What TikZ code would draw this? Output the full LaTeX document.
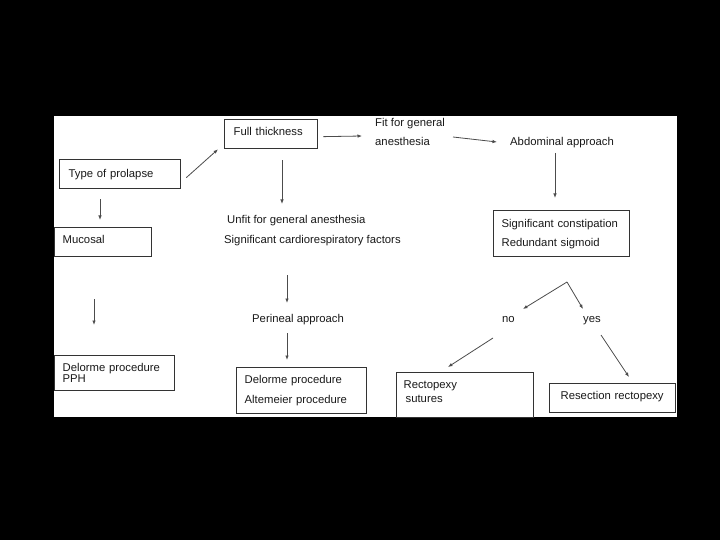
\documentclass[tikz,border=0pt]{standalone}
\usepackage{fontspec}
\setmainfont{Liberation Sans}
\usetikzlibrary{arrows.meta,calc}
\begin{document}
\begin{tikzpicture}[x=1pt,y=-1pt,
  every node/.style={font=\fontsize{11.3}{13}\selectfont, text=black!90},
  box/.style={draw=black!80, line width=1.3pt, anchor=north west, inner ysep=0pt, align=left},
  lbl/.style={anchor=north west, inner sep=0pt, align=left},
  arr/.style={draw=black!70, line width=0.8pt, -{Latex[length=4.5pt,width=3.5pt]}},
]
\useasboundingbox (0,0) rectangle (720,540);
\fill[black] (0,0) rectangle (720,540);
\fill[white] (54,116) rectangle (677,417);

% boxes
\node[box, inner xsep=9pt, minimum width=121pt, minimum height=29pt, text width=103pt] (type) at (59,159) {Type of prolapse};
\node[box, inner xsep=9pt, minimum width=93pt, minimum height=29pt, text width=75pt, text depth=6pt] (full) at (224,119) {Full thickness};
\node[box, inner xsep=8pt, minimum width=97pt, minimum height=29pt, text width=81pt, text depth=6pt] (mucosal) at (54,227) {Mucosal};
\node[box, inner xsep=8pt, minimum width=120pt, minimum height=35pt, text width=104pt, font=\fontsize{11.3}{11}\selectfont] (pph) at (54,355) {Delorme procedure\\PPH};
\node[box, inner xsep=8pt, minimum width=130pt, minimum height=46pt, text width=114pt, font=\fontsize{11.3}{20}\selectfont] (alt) at (236,367) {Delorme procedure\\Altemeier procedure};
\node[box, inner xsep=8pt, minimum width=136pt, minimum height=46pt, text width=120pt, font=\fontsize{11.3}{19}\selectfont] (sig) at (493,210) {Significant constipation\\Redundant sigmoid};
\node[box, inner xsep=7pt, minimum width=137pt, minimum height=45pt, text width=123pt, font=\fontsize{11.3}{14}\selectfont] (recto) at (396,372) {Rectopexy\\\hspace*{2pt}sutures\\[-6pt]\mbox{}};
\node[box, inner xsep=11pt, minimum width=126pt, minimum height=29pt, text width=104pt, text depth=5pt] (resec) at (549,383) {Resection rectopexy};

% free texts
\node[lbl, font=\fontsize{11.3}{19}\selectfont] (fit) at (375,118.5) {Fit for general\\anesthesia};
\node[lbl, font=\fontsize{11.3}{20}\selectfont] (unfit) at (224,215.5) {\hspace*{3pt}Unfit for general anesthesia\\Significant cardiorespiratory factors};
\node[lbl] (abd) at (510,137.5) {Abdominal approach};
\node[lbl] (peri) at (252,314.5) {Perineal approach};
\node[lbl] (no) at (502,316.5) {no};
\node[lbl] (yes) at (583,316.5) {yes};
\coordinate (apex) at (567,282);

% connectors
\draw[arr] ($(type.east)+(5,3.5)$) -- ($(full.south west)+(-6,0)$);
\draw[arr] ($(type.south west)+(41,10)$) -- ($(mucosal.north west)+(46,-7)$);
\draw[arr] ($(mucosal.south west)+(40,42)$) -- ($(pph.north west)+(40,-30)$);
\draw[arr] ($(full.south west)+(58,11)$) -- ($(unfit.north west)+(58,-11.5)$);
\draw[arr] ($(full.east)+(5,2.5)$) -- ($(fit.north west)+(-13,17.5)$);
\draw[arr] ($(fit.north west)+(78,18.5)$) -- ($(abd.north west)+(-13,4.5)$);
\draw[arr] ($(abd.north west)+(45,15.5)$) -- ($(sig.north west)+(62,-12)$);
\draw[arr] ($(unfit.north west)+(63,59.5)$) -- ($(peri.north west)+(35,-11.5)$);
\draw[arr] ($(peri.north west)+(35,18.5)$) -- ($(alt.north west)+(51,-7)$);
\draw[arr] (apex) -- ($(no.north west)+(21,-7.5)$);
\draw[arr] (apex) -- ($(yes.north west)+(0,-7.5)$);
\draw[arr] ($(no.north west)+(-9,21.5)$) -- ($(recto.north west)+(52,-5)$);
\draw[arr] ($(yes.north west)+(18,18.5)$) -- ($(resec.north west)+(80,-6)$);
\end{tikzpicture}
\end{document}
